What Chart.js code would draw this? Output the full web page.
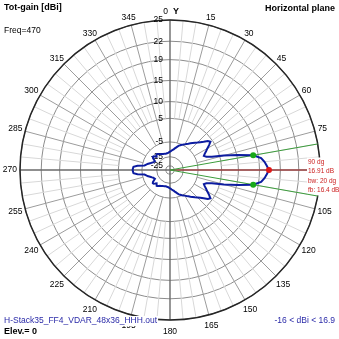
<!DOCTYPE html>
<html><head><meta charset="utf-8">
<script src="https://cdn.jsdelivr.net/npm/chart.js@4.4.1/dist/chart.umd.min.js"></script>
<style>html,body{margin:0;padding:0;background:#fff;overflow:hidden}canvas{display:block}</style>
</head><body>
<canvas id="c" width="339" height="339" style="width:339px;height:339px"></canvas>
<script>
// ---- data (compass angle in degrees, 0 = top, clockwise) ----
const angles = Array.from({length: 144}, (_, i) => i * 2.5);
const gainDbi = [
  -11.1, -10.7, -10.2, -9.7, -9.2, -8.5, -7.8, -7.0, -6.2, -5.7,
  -5.1, -4.7, -4.2, -3.6, -3.0, -2.2, -1.5, -0.7, 0.1, 1.1,
  2.2, 3.6, 4.2, 3.1, 1.9, 0.9, -0.1, -0.8, 0.1, 2.2,
  6.3, 10.3, 13.9, 15.5, 16.1, 16.5, 16.9, 16.5, 16.1, 15.5,
  13.9, 10.3, 6.3, 2.2, 0.1, -0.8, -0.1, 0.9, 1.9, 3.1,
  4.2, 3.6, 2.2, 1.1, 0.1, -0.7, -1.5, -2.2, -3.0, -3.6,
  -4.2, -4.7, -5.1, -5.7, -6.2, -7.0, -7.8, -8.5, -9.2, -9.7,
  -10.2, -10.7, -11.1, -11.4, -11.7, -11.9, -12.0, -12.1, -12.1, -12.0,
  -11.9, -11.7, -11.5, -11.2, -11.0, -10.7, -10.3, -9.8, -9.4, -10.0,
  -10.6, -9.8, -9.0, -8.8, -9.3, -10.6, -11.7, -11.4, -11.0, -10.3,
  -9.6, -8.7, -7.7, -7.1, -6.2, -2.6, -0.8, -0.6, -0.5, -0.6,
  -0.8, -2.6, -6.2, -7.1, -7.7, -8.7, -9.6, -10.3, -11.0, -11.4,
  -11.7, -10.6, -9.3, -8.8, -9.0, -9.8, -10.6, -10.0, -9.4, -9.8,
  -10.3, -10.7, -11.0, -11.2, -11.5, -11.7, -11.9, -12.0, -12.1, -12.1,
  -12.0, -11.9, -11.7, -11.4
];
const ringDb = [25, 22, 19, 15, 10, 5, -5, -15, -25];
const angleTickLabels = ['0','15','30','45','60','75','90','105','120','135','150','165',
                         '180','195','210','225','240','255','270','285','300','315','330','345'];
const maxDir = 90, maxGain = 16.91;
const bwDirs = [80, 100], bwGain = 13.91;
const infoLines = ['90 dg', '16.91 dB', 'bw: 20 dg', 'fb: 16.4 dB'];
const titleLeft = 'Tot-gain [dBi]', titleRight = 'Horizontal plane', freqText = 'Freq=470';
const fileText = 'H-Stack35_FF4_VDAR_48x36_HHH.out', elevText = 'Elev.= 0', rangeText = '-16 < dBi < 16.9';

// ---- ARRL-like log radial mapping (dB -> 0..1) ----
const K = 0.047, OFF = 0.2271;
function rn(db) { return (Math.exp(K * db) - OFF) / (Math.exp(K * 25) - OFF); }

const FONT = '"Liberation Sans", Arial, sans-serif';
const markerRed = angles.map(a => a === maxDir ? rn(maxGain) : null);
const markerGreen = angles.map(a => bwDirs.includes(a) ? rn(bwGain) : null);

function txt(ctx, s, x, y, font, color, align, bg) {
  ctx.font = font; ctx.textAlign = align; ctx.textBaseline = 'middle';
  if (bg) {
    const w = ctx.measureText(s).width;
    const x0 = align === 'right' ? x - w : (align === 'center' ? x - w / 2 : x);
    ctx.fillStyle = '#fff';
    ctx.fillRect(x0 - 1, y - 5, w + 2, 10);
  }
  ctx.fillStyle = color;
  ctx.fillText(s, x, y);
}

const deco = {
  id: 'deco',
  beforeDatasetsDraw(chart) {
    const s = chart.scales.r, ctx = chart.ctx;
    ctx.save();
    // angle lines
    angles.forEach((a, i) => {
      if (a % 5 !== 0) return;
      let from, color, w;
      if (a % 90 === 0) { from = 0; color = '#6a6a6a'; w = 1.4; }
      else if (a % 15 === 0) { from = rn(-5); color = '#9c9c9c'; w = 1; }
      else { from = rn(5); color = '#d8d8d8'; w = 1; }
      const p1 = s.getPointPositionForValue(i, from);
      const p2 = s.getPointPositionForValue(i, 1);
      ctx.strokeStyle = color; ctx.lineWidth = w;
      ctx.beginPath(); ctx.moveTo(p1.x, p1.y); ctx.lineTo(p2.x, p2.y); ctx.stroke();
    });
    // outer ring on top
    ctx.strokeStyle = '#262626'; ctx.lineWidth = 1.5;
    ctx.beginPath(); ctx.arc(s.xCenter, s.yCenter, s.getDistanceFromCenterForValue(1), 0, Math.PI * 2); ctx.stroke();
    // ring labels
    ringDb.forEach(d => {
      const y = s.yCenter - s.getDistanceFromCenterForValue(rn(d));
      txt(ctx, String(d), s.xCenter - 7, y, '8.5px ' + FONT, '#000', 'right');
    });
    // angle labels
    angleTickLabels.forEach(lab => {
      const a = Number(lab);
      if (a === 90) return;
      const i = angles.indexOf(a);
      const p = s.getPointPosition(i, s.drawingArea + 8);
      if (a === 0) {
        txt(ctx, lab, s.xCenter - 2, p.y, '8.5px ' + FONT, '#000', 'right');
        txt(ctx, 'Y', s.xCenter + 3, p.y, 'bold 9px ' + FONT, '#000', 'left');
        return;
      }
      ctx.font = '8.5px ' + FONT;
      const w = ctx.measureText(lab).width;
      const rad = a * Math.PI / 180;
      const x = p.x + Math.sin(rad) * (w - 10) / 2;
      const y = p.y + Math.max(0, -Math.cos(rad)) * 3.5;
      txt(ctx, lab, x, y, '8.5px ' + FONT, '#000', 'center');
    });
    // red max direction line
    const iMax = angles.indexOf(maxDir);
    const pm = s.getPointPositionForValue(iMax, 1);
    ctx.strokeStyle = '#c03838'; ctx.lineWidth = 1;
    ctx.beginPath(); ctx.moveTo(s.xCenter, s.yCenter); ctx.lineTo(pm.x, pm.y); ctx.stroke();
    // info text
    const ys = [162.5, 171.5, 181, 190.5];
    infoLines.forEach((t, k) => txt(ctx, t, 308, ys[k], '6.5px ' + FONT, '#cc2020', 'left', true));
    // green beamwidth lines
    ctx.strokeStyle = '#3c9c3c'; ctx.lineWidth = 1;
    bwDirs.forEach(a => {
      const p = s.getPointPositionForValue(angles.indexOf(a), 1);
      ctx.beginPath(); ctx.moveTo(s.xCenter, s.yCenter); ctx.lineTo(p.x, p.y); ctx.stroke();
    });
    // corner texts
    txt(ctx, titleLeft, 4, 8, 'bold 9px ' + FONT, '#000', 'left');
    txt(ctx, freqText, 4, 31, '8.5px ' + FONT, '#000', 'left');
    txt(ctx, titleRight, 335, 9, 'bold 9px ' + FONT, '#000', 'right');
    txt(ctx, fileText, 4, 321, '8.5px ' + FONT, '#2a2aa8', 'left', true);
    txt(ctx, elevText, 4, 332, 'bold 9px ' + FONT, '#000', 'left');
    txt(ctx, rangeText, 335, 321, '8.5px ' + FONT, '#2a2aa8', 'right');
    ctx.restore();
  }
};

new Chart(document.getElementById('c'), {
  type: 'radar',
  data: {
    labels: angles.map(String),
    datasets: [
      { data: markerRed, order: 0, showLine: false, borderWidth: 0, pointRadius: 3,
        pointBackgroundColor: '#e01818', pointBorderWidth: 0, spanGaps: false },
      { data: markerGreen, order: 0, showLine: false, borderWidth: 0, pointRadius: 3,
        pointBackgroundColor: '#18a818', pointBorderWidth: 0, spanGaps: false },
      { data: gainDbi.map(rn), order: 1, borderColor: '#0c1ca0', borderWidth: 2,
        pointRadius: 0, fill: false, tension: 0 }
    ]
  },
  options: {
    responsive: false, animation: false, devicePixelRatio: 1,
    layout: { padding: { left: 20, right: 18, top: 20, bottom: 18 } },
    plugins: { legend: { display: false }, tooltip: { enabled: false } },
    scales: {
      r: {
        min: 0, max: 1, startAngle: 0,
        angleLines: { display: false },
        grid: { circular: true, color: '#8c8c8c', lineWidth: 1 },
        ticks: { display: false },
        pointLabels: { display: false },
        afterBuildTicks: sc => {
          sc.ticks = [{ value: 0 }].concat(ringDb.slice().reverse().map(d => ({ value: rn(d) })));
        }
      }
    }
  },
  plugins: [deco]
});
</script>
</body></html>
